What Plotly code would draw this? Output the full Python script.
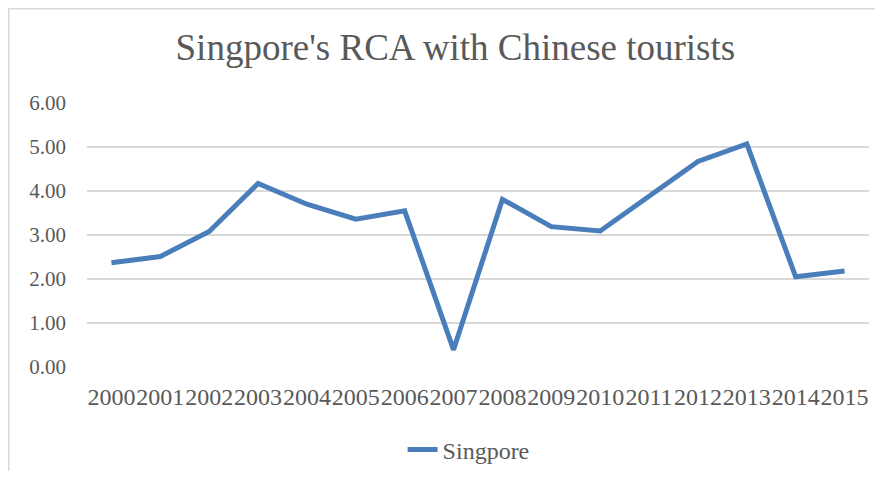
import plotly.graph_objects as go

years = ["2000", "2001", "2002", "2003", "2004", "2005", "2006", "2007",
         "2008", "2009", "2010", "2011", "2012", "2013", "2014", "2015"]
rca = [2.37, 2.51, 3.08, 4.17, 3.70, 3.36, 3.55, 0.39,
       3.81, 3.19, 3.09, 3.87, 4.67, 5.07, 2.05, 2.18]
y_ticks = [0, 1, 2, 3, 4, 5, 6]
y_tick_text = ["0.00", "1.00", "2.00", "3.00", "4.00", "5.00", "6.00"]

FONT = '"Liberation Serif", "Times New Roman", serif'
GRAY = "#595959"

W, H = 867, 463
L, R, T, B = 79, 6, 95, 104
PW, PH = W - L - R, H - T - B

fig = go.Figure()
fig.add_trace(go.Scatter(
    x=years, y=rca, mode="lines", name="Singpore",
    line=dict(color="#4A7EBB", width=5),
))

fig.update_layout(
    width=W, height=H,
    margin=dict(l=L, r=R, t=T, b=B, autoexpand=False),
    paper_bgcolor="white", plot_bgcolor="white",
    title=dict(text="Singpore's RCA with Chinese tourists", x=0.516, xanchor="center",
               y=1 - 39 / H, yanchor="middle",
               font=dict(family=FONT, size=37, color=GRAY)),
    showlegend=True,
    legend=dict(orientation="h", x=0.488, xanchor="center",
                y=(PH - (442 - T)) / PH, yanchor="middle",
                font=dict(family=FONT, size=24, color=GRAY)),
    xaxis=dict(type="category", range=[-0.5, len(years) - 0.5],
               showgrid=False, showline=False, zeroline=False,
               tickfont=dict(family=FONT, size=24, color=GRAY), tickangle=0,
               ticks="", ticklabelstandoff=13, automargin=False),
    yaxis=dict(range=[0, 6], tickvals=y_ticks, ticktext=y_tick_text,
               showgrid=True, gridcolor="#D9D9D9", gridwidth=1.5,
               zeroline=False, showline=False,
               tickfont=dict(family=FONT, size=21, color=GRAY),
               ticks="", ticklabelstandoff=20, automargin=False),
    shapes=[dict(type="rect", xref="paper", yref="paper",
                 x0=(0.75 - L) / PW, x1=(W + 20 - L) / PW,
                 y0=-(B + 20) / PH, y1=(PH + T - 0.75) / PH,
                 line=dict(color="#D9D9D9", width=1.5), fillcolor="rgba(0,0,0,0)",
                 layer="below")],
)

fig.write_html("out.html")
